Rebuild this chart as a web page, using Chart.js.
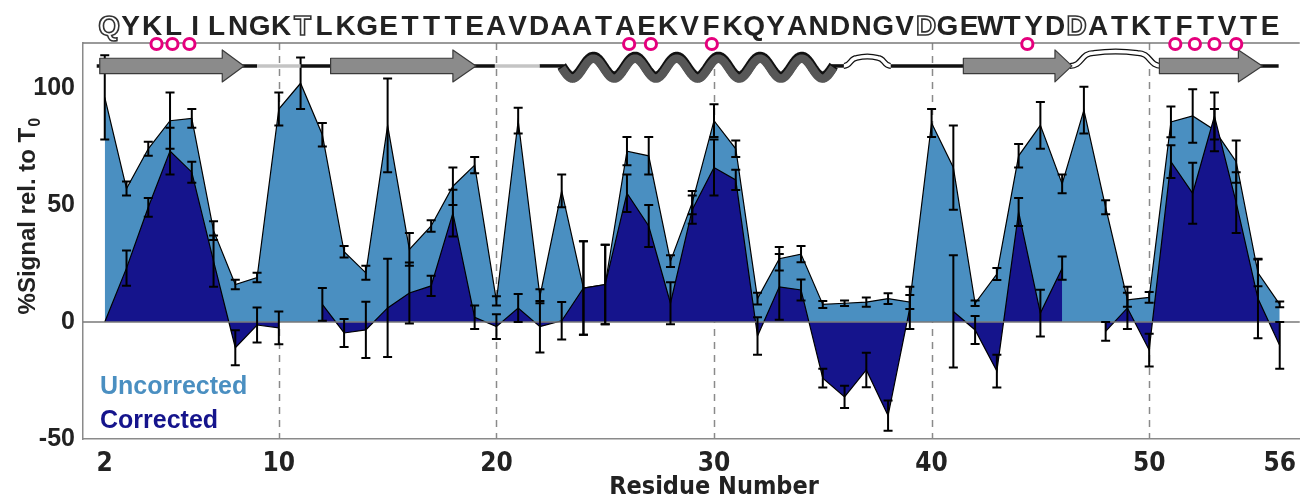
<!DOCTYPE html>
<html>
<head>
<meta charset="utf-8">
<script src="https://cdn.jsdelivr.net/npm/chart.js@4.4.0/dist/chart.umd.min.js"></script>
<style>
  html, body { margin: 0; padding: 0; background: #fff; overflow: hidden; }
  #wrap { width: 1306px; height: 497px; position: relative; }
</style>
</head>
<body>
<div id="wrap"><canvas id="myChart"></canvas></div>
<script>
const residues = [2, 3, 4, 5, 6, 7, 8, 9, 10, 11, 12, 13, 14, 15, 16, 17, 18, 19, 20, 21, 22, 23, 24, 25, 26, 27, 28, 29,
  30, 31, 32, 33, 34, 35, 36, 37, 38, 39, 40, 41, 42, 43, 44, 45, 46, 47, 48, 49, 50, 51, 52, 53, 54, 55, 56];
const sequence = 'QYKLILNGKTLKGETTTEAVDAATAEKVFKQYANDNGVDGEWTYDDATKTFTVTE';
const outlinedResidues = [2, 11, 40, 47];

const uncorrected = [96, 57, 74, 86, 87, 39, 16, 19, 91, 102, 80, 30, 21, 84, 31, 41, 58, 67, 9, 86, 11, 56, 14.5, 16,
  73, 71, 26, 51, 86, 74, 10, 27, 29, 7.5, 8, 8.5, 10, 8.5, 85, 66, 8, 20.5, 71, 84, 59, 90.5, 49, 9.5, 10.5, 85.5,
  88, 82, 68.5, 21, 7.5];
const uncorrectedErr = [18, 3, 3, 12, 4, 4, 2, 2, 7, 11, 5, 2.5, 3, 20, 7, 2.5, 8, 3.5, 2, 5.5, 3, 7, 20, 17,
  6, 8, 2.5, 5, 7, 3.5, 2.5, 5, 3.5, 1.5, 1.2, 2, 2.3, 3, 6, 18, 1.2, 2.6, 5, 10, 4, 10, 3, 3, 2.3, 6.6,
  11.4, 9, 9, 5.7, 1.2];
const corrected = [0, 23, 49, 73, 64, 26, -11, -1.3, -2.5, null, 7.5, -4.7, -3.4, 6, 12.4, 15.4, 46.5, 2, -2, 6, -2, 0.5,
  14.5, 16, 55, 41, 8, 48, 66, 60.7, -6, 15, 13.7, -24, -32, -20.5, -40, 6, null, 4.5, -3.4, -21, 47, 3.8, 23, null,
  -4, 6, -12, 68.5, 55, 88, 51, 10, -10];
const correctedErr = [null, 7.5, 4, 10, 4.5, 11, 7.5, 7.5, 7, null, 7, 6, 12, 21, 13, 4.3, 10, 5, 5.3, 6, 11, 8,
  20, 17, 8, 9, 9, 6, 12, 4.3, 8, 14, 4.5, 4, 4.8, 7.4, 6.5, 9, null, 24, 6, 7, 6, 10, 5, null, 4, 9, 7, 7, 13, 10,
  13, 17, 10];

const xTicks = [2, 10, 20, 30, 40, 50, 56];
const yTicks = [-50, 0, 50, 100];
const dashedAt = [10, 20, 30, 40, 50];
const contactResidues = [4.38, 5.11, 5.89, 26.1, 27.1, 29.9, 44.4, 51.2, 52.1, 53.0, 54.0];

// secondary structure cartoon, in residue units
const strands = [[1.77, 7.4, 8.4], [12.38, 18.0, 19.06], [41.46, 45.67, 46.45], [50.47, 54.1, 55.2]];
const helixSpan = [23.0, 35.5];
const loops = [[36.06, 38.03, 8], [46.45, 50.47, 13]];
const blackLine = [[1.63, 9.0], [11.0, 19.93], [21.98, 23.1], [35.4, 36.1], [38.0, 46.5], [50.4, 55.95]];
const greyLine = [[9.0, 11.0], [19.93, 21.98]];

const lightBlue = '#4a8fc1';
const navy = '#15148c';
const boldFont = '"Liberation Sans", Arial, sans-serif';
const narrowFont = '"Liberation Sans Narrow", "Arial Narrow", "DejaVu Sans Condensed", sans-serif';

const pts = (vals) => residues.map((r, i) => ({ x: r, y: vals[i] }));

const framePlugin = {
  id: 'frame',
  beforeDatasetsDraw(chart) {
    const { ctx, chartArea: a, scales: { x } } = chart;
    ctx.save();
    ctx.strokeStyle = '#8a8a8a';
    ctx.lineWidth = 1.5;
    ctx.setLineDash([7, 6]);
    dashedAt.forEach(r => {
      const px = Math.round(x.getPixelForValue(r)) + 0.5;
      ctx.beginPath();
      ctx.moveTo(px, a.top);
      ctx.lineTo(px, a.bottom);
      ctx.stroke();
    });
    ctx.restore();
  },
  afterDatasetsDraw(chart) {
    const { ctx, chartArea: a, scales: { x, y } } = chart;
    ctx.save();
    // zero line and top frame
    ctx.strokeStyle = '#7a7a7a';
    ctx.lineWidth = 1.5;
    const y0 = y.getPixelForValue(0);
    ctx.beginPath();
    ctx.moveTo(a.left, y0);
    ctx.lineTo(a.right, y0);
    ctx.moveTo(a.left, a.top);
    ctx.lineTo(a.right, a.top);
    ctx.stroke();

    // error bars
    ctx.strokeStyle = '#000';
    ctx.lineWidth = 2;
    const bars = (vals, errs) => {
      vals.forEach((v, i) => {
        if (v === null || errs[i] === null) return;
        const px = x.getPixelForValue(residues[i]);
        const top = y.getPixelForValue(v + errs[i]);
        const bot = y.getPixelForValue(v - errs[i]);
        ctx.beginPath();
        ctx.moveTo(px, top); ctx.lineTo(px, bot);
        ctx.moveTo(px - 4.5, top); ctx.lineTo(px + 4.5, top);
        ctx.moveTo(px - 4.5, bot); ctx.lineTo(px + 4.5, bot);
        ctx.stroke();
      });
    };
    bars(uncorrected, uncorrectedErr);
    bars(corrected, correctedErr);

    // secondary structure
    const yb = y.getPixelForValue(109.4);
    ctx.lineCap = 'butt';
    ctx.lineWidth = 3.5;
    ctx.strokeStyle = '#111';
    blackLine.forEach(([r0, r1]) => {
      ctx.beginPath();
      ctx.moveTo(x.getPixelForValue(r0), yb);
      ctx.lineTo(x.getPixelForValue(r1), yb);
      ctx.stroke();
    });
    ctx.strokeStyle = '#c4c4c4';
    greyLine.forEach(([r0, r1]) => {
      ctx.beginPath();
      ctx.moveTo(x.getPixelForValue(r0), yb);
      ctx.lineTo(x.getPixelForValue(r1), yb);
      ctx.stroke();
    });

    // helix
    const wave = (dy) => {
      ctx.beginPath();
      for (let r = helixSpan[0]; r <= helixSpan[1] + 0.001; r += 0.05) {
        const px = x.getPixelForValue(r);
        const py = yb + 1.5 + dy + 10 * Math.cos(2 * Math.PI * (r - 23.5) / 1.915);
        if (r === helixSpan[0]) ctx.moveTo(px, py); else ctx.lineTo(px, py);
      }
      ctx.stroke();
    };
    ctx.lineJoin = 'round';
    ctx.strokeStyle = '#111';
    ctx.lineWidth = 10;
    wave(-0.8);
    ctx.strokeStyle = '#575757';
    ctx.lineWidth = 8.5;
    wave(1.2);

    // loops
    loops.forEach(([r0, r1, h]) => {
      const x0 = x.getPixelForValue(r0), x1 = x.getPixelForValue(r1);
      const w = x1 - x0;
      const path = () => {
        ctx.beginPath();
        ctx.moveTo(x0 - 2, yb);
        ctx.bezierCurveTo(x0 + w * 0.12, yb, x0 + w * 0.1, yb - h, x0 + w * 0.25, yb - h);
        ctx.quadraticCurveTo(x0 + w * 0.5, yb - h - 3, x1 - w * 0.25, yb - h);
        ctx.bezierCurveTo(x1 - w * 0.1, yb - h, x1 - w * 0.12, yb, x1 + 2, yb);
        ctx.stroke();
      };
      ctx.strokeStyle = '#111';
      ctx.lineWidth = 6;
      path();
      ctx.strokeStyle = '#fff';
      ctx.lineWidth = 3.5;
      path();
    });

    // strands
    strands.forEach(([r0, rh, rt]) => {
      const x0 = x.getPixelForValue(r0), xh = x.getPixelForValue(rh), xt = x.getPixelForValue(rt);
      ctx.beginPath();
      ctx.moveTo(x0, yb - 7.7);
      ctx.lineTo(xh, yb - 7.7);
      ctx.lineTo(xh, yb - 16);
      ctx.lineTo(xt, yb);
      ctx.lineTo(xh, yb + 16);
      ctx.lineTo(xh, yb + 7.7);
      ctx.lineTo(x0, yb + 7.7);
      ctx.closePath();
      ctx.fillStyle = '#8b8b8b';
      ctx.fill();
      ctx.lineWidth = 1.2;
      ctx.strokeStyle = '#3a3a3a';
      ctx.stroke();
    });
    ctx.restore();
  },
  afterDraw(chart) {
    const { ctx, chartArea: a, scales: { x, y } } = chart;
    ctx.save();
    // sequence
    ctx.font = 'bold 28px ' + boldFont;
    ctx.textAlign = 'center';
    ctx.textBaseline = 'alphabetic';
    sequence.split('').forEach((ch, i) => {
      const r = residues[i];
      const px = x.getPixelForValue(2.2 + i * 0.988);
      if (outlinedResidues.includes(r)) {
        ctx.lineWidth = 1.6;
        ctx.strokeStyle = '#333';
        ctx.fillStyle = '#fff';
        ctx.fillText(ch, px, 35);
        ctx.strokeText(ch, px, 35);
      } else {
        ctx.fillStyle = '#222';
        ctx.fillText(ch, px, 35);
      }
    });

    // contact circles
    ctx.strokeStyle = '#e5007d';
    ctx.fillStyle = '#fff';
    ctx.lineWidth = 3;
    contactResidues.forEach(r => {
      ctx.beginPath();
      ctx.arc(x.getPixelForValue(r), a.top + 1, 5.6, 0, 2 * Math.PI);
      ctx.fill();
      ctx.stroke();
    });

    // legend text
    ctx.textAlign = 'left';
    ctx.font = 'bold 25px ' + boldFont;
    ctx.fillStyle = lightBlue;
    ctx.fillText('Uncorrected', 100, 394);
    ctx.fillStyle = navy;
    ctx.fillText('Corrected', 100, 428);

    // x title
    ctx.fillStyle = '#222';
    ctx.textAlign = 'center';
    ctx.font = 'bold 25px ' + narrowFont;
    ctx.fillText('Residue Number', x.getPixelForValue(30), 494);

    // y title with subscript
    ctx.translate(35, y.getPixelForValue(45));
    ctx.rotate(-Math.PI / 2);
    ctx.textAlign = 'left';
    const main = '%Signal rel. to T';
    ctx.font = 'bold 24px ' + boldFont;
    const w1 = ctx.measureText(main).width;
    ctx.font = 'bold 16px ' + boldFont;
    const w2 = ctx.measureText('0').width;
    const start = -(w1 + w2) / 2;
    ctx.font = 'bold 24px ' + boldFont;
    ctx.fillText(main, start, 0);
    ctx.font = 'bold 16px ' + boldFont;
    ctx.fillText('0', start + w1 + 1, 5);
    ctx.restore();
  }
};

const ctx = document.getElementById('myChart');

new Chart(ctx, {
  type: 'line',
  data: {
    datasets: [
      {
        label: 'Uncorrected',
        data: pts(uncorrected),
        order: 2,
        fill: 'origin',
        backgroundColor: lightBlue,
        borderColor: '#000',
        borderWidth: 1.2,
        pointRadius: 0,
        tension: 0
      },
      {
        label: 'Corrected',
        data: pts(corrected),
        order: 1,
        fill: 'origin',
        spanGaps: false,
        backgroundColor: navy,
        borderColor: '#000',
        borderWidth: 1.2,
        pointRadius: 0,
        tension: 0
      }
    ]
  },
  options: {
    responsive: true,
    maintainAspectRatio: false,
    animation: false,
    layout: { padding: { top: 43, left: 0, right: 0, bottom: 0 } },
    scales: {
      x: {
        type: 'linear',
        min: 1.0,
        max: 56.92,
        afterBuildTicks: s => { s.ticks = xTicks.map(v => ({ value: v })); },
        afterFit: s => { s.height = 58; },
        grid: { display: false, drawTicks: false },
        border: { display: true, color: '#8a8a8a', width: 1.5 },
        ticks: {
          color: '#222',
          padding: 10,
          maxRotation: 0,
          autoSkip: false,
          font: { family: narrowFont, size: 26, weight: 'bold' }
        }
      },
      y: {
        min: -50,
        max: 119.2,
        afterBuildTicks: s => { s.ticks = yTicks.map(v => ({ value: v })); },
        afterFit: s => { s.width = 83; },
        grid: { display: false, drawTicks: false },
        border: { display: true, color: '#8a8a8a', width: 1.5 },
        ticks: {
          color: '#222',
          padding: 8,
          font: { family: boldFont, size: 25, weight: 'bold' }
        }
      }
    },
    plugins: {
      legend: { display: false },
      tooltip: { enabled: false }
    }
  },
  plugins: [framePlugin]
});
</script>
</body>
</html>
